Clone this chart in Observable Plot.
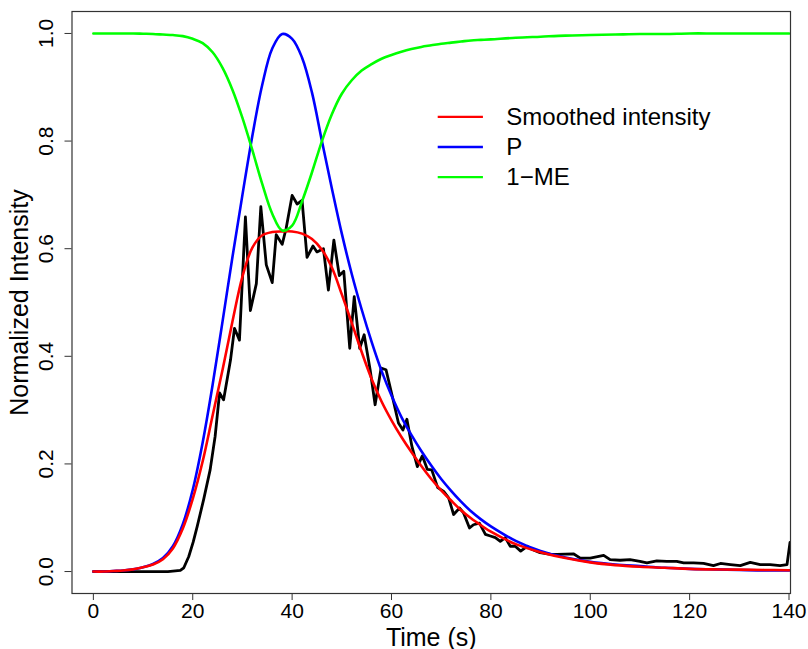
<!DOCTYPE html>
<html>
<head>
<meta charset="utf-8">
<script src="https://cdn.jsdelivr.net/npm/d3@7"></script>
<script src="https://cdn.jsdelivr.net/npm/@observablehq/plot@0.6"></script>
<style>
  html, body { margin: 0; padding: 0; background: #fff; }
  #chart { width: 808px; height: 649px; }
</style>
</head>
<body>
<div id="chart"></div>
<script>
// ---- data ----
const xTicks = [0, 20, 40, 60, 80, 100, 120, 140];
const yTicks = [0, 0.2, 0.4, 0.6, 0.8, 1.0];
const xTitle = "Time (s)";
const yTitle = "Normalized Intensity";
const legendLabels = ["Smoothed intensity", "P", "1\u2212ME"];
const legendColors = ["#FF0000", "#0000FF", "#00FF00"];

// raw (noisy) normalized intensity
const rawTime = [0, 5, 10, 15, 17.5, 18.2, 19.2, 20.1, 20.9, 22.2, 23.5, 24.5, 25.4, 26.2, 27.6, 28.4, 29.4, 30.6, 31.6, 32.8, 33.7, 34.8, 36.0, 36.8, 38.0, 38.8, 40.0, 41.0, 42.0, 43.0, 44.2, 45.0, 46.3, 47.3, 48.4, 49.5, 50.4, 51.6, 52.5, 53.6, 54.5, 55.7, 56.7, 57.9, 58.9, 60.1, 61.4, 62.3, 63.1, 64.1, 65.2, 66.2, 67.2, 68.1, 69.3, 70.5, 71.5, 72.5, 73.7, 74.5, 75.7, 76.5, 77.7, 78.9, 79.9, 80.9, 81.9, 82.9, 83.9, 84.9, 86.0, 87.3, 88.3, 89.9, 92.0, 93.3, 96.6, 98.0, 100, 102.7, 104, 106, 108, 110, 111.4, 113.4, 115.4, 117.4, 118.8, 120.8, 122.8, 124.8, 126.2, 128.2, 130.2, 132.2, 134.2, 136.2, 138.2, 139.6, 140.2];
const rawIntensity = [0, 0, 0, 0, 0.002, 0.007, 0.028, 0.055, 0.084, 0.134, 0.189, 0.251, 0.332, 0.319, 0.393, 0.452, 0.430, 0.659, 0.485, 0.535, 0.678, 0.570, 0.537, 0.626, 0.608, 0.638, 0.699, 0.683, 0.690, 0.584, 0.605, 0.594, 0.600, 0.523, 0.616, 0.550, 0.558, 0.415, 0.511, 0.415, 0.440, 0.375, 0.310, 0.378, 0.375, 0.328, 0.276, 0.263, 0.283, 0.233, 0.195, 0.215, 0.190, 0.189, 0.156, 0.149, 0.137, 0.106, 0.118, 0.109, 0.081, 0.087, 0.090, 0.069, 0.066, 0.063, 0.056, 0.063, 0.047, 0.047, 0.038, 0.047, 0.041, 0.035, 0.032, 0.032, 0.033, 0.025, 0.025, 0.030, 0.022, 0.021, 0.022, 0.019, 0.016, 0.020, 0.019, 0.019, 0.016, 0.016, 0.015, 0.011, 0.015, 0.013, 0.011, 0.017, 0.013, 0.013, 0.011, 0.013, 0.054];

// smooth curves, sampled times
const curveTime = [0, 2, 4, 6, 8, 10, 12, 14, 16, 18, 20, 22, 24, 26, 28, 30, 32, 34, 36, 38, 40, 42, 44, 46, 48, 50, 52, 54, 56, 58, 60, 62, 64, 66, 68, 70, 72, 74, 76, 78, 80, 85, 90, 95, 100, 105, 110, 115, 120, 125, 130, 135, 140];
const smoothedIntensity = [0, 0, 0.001, 0.002, 0.004, 0.008, 0.013, 0.023, 0.043, 0.080, 0.135, 0.205, 0.290, 0.375, 0.465, 0.548, 0.602, 0.625, 0.631, 0.632, 0.632, 0.628, 0.618, 0.598, 0.565, 0.515, 0.462, 0.408, 0.358, 0.316, 0.281, 0.250, 0.222, 0.196, 0.172, 0.151, 0.132, 0.114, 0.099, 0.086, 0.074, 0.051, 0.036, 0.025, 0.017, 0.012, 0.009, 0.007, 0.005, 0.004, 0.0035, 0.003, 0.0025];
const pValues = [0, 0, 0.001, 0.002, 0.004, 0.008, 0.014, 0.025, 0.047, 0.088, 0.152, 0.240, 0.347, 0.465, 0.585, 0.700, 0.810, 0.905, 0.972, 0.999, 0.990, 0.955, 0.890, 0.800, 0.712, 0.628, 0.553, 0.487, 0.427, 0.373, 0.327, 0.287, 0.254, 0.224, 0.197, 0.172, 0.150, 0.130, 0.112, 0.097, 0.084, 0.057, 0.038, 0.026, 0.018, 0.013, 0.010, 0.007, 0.005, 0.004, 0.003, 0.002, 0.002];
const oneMinusME = [1, 1, 1, 1, 1, 0.9995, 0.999, 0.998, 0.997, 0.995, 0.990, 0.982, 0.965, 0.936, 0.895, 0.843, 0.783, 0.720, 0.665, 0.634, 0.643, 0.688, 0.742, 0.800, 0.850, 0.888, 0.913, 0.931, 0.943, 0.953, 0.960, 0.966, 0.971, 0.975, 0.978, 0.981, 0.983, 0.985, 0.987, 0.988, 0.989, 0.992, 0.994, 0.996, 0.997, 0.998, 0.999, 0.999, 1, 1, 1, 1, 1];

// ---- build tables ----
const raw = rawTime.map((t, i) => ({t, v: rawIntensity[i]}));
const curves = [smoothedIntensity, pValues, oneMinusME].map(arr => curveTime.map((t, i) => ({t, v: arr[i]})));

const legendTop = 0.845, legendStep = 0.056;
const legendX1 = 69.4, legendX2 = 78.5, legendTextX = 83.1;
const fontFamily = "'Liberation Sans', Arial, Helvetica, sans-serif";

const lineMarks = [
  Plot.line(raw, {x: "t", y: "v", stroke: "#000", strokeWidth: 2.8, strokeLinejoin: "round", clip: true}),
  Plot.line(curves[1], {x: "t", y: "v", stroke: legendColors[1], strokeWidth: 2.6, curve: "catmull-rom", clip: true}),
  Plot.line(curves[0], {x: "t", y: "v", stroke: legendColors[0], strokeWidth: 2.6, curve: "catmull-rom", clip: true}),
  Plot.line(curves[2], {x: "t", y: "v", stroke: legendColors[2], strokeWidth: 2.6, curve: "catmull-rom", clip: true})
];

const legendMarks = legendLabels.map((lab, i) =>
  Plot.ruleY([legendTop - i * legendStep], {x1: () => legendX1, x2: () => legendX2, y: d => d, stroke: legendColors[i], strokeWidth: 2.4})
).concat([
  Plot.text(legendLabels, {x: () => legendTextX, y: (d, i) => legendTop - i * legendStep, text: d => d,
    textAnchor: "start", lineAnchor: "middle", fontSize: 24, fill: "#000"})
]);

const chart = Plot.plot({
  width: 808,
  height: 649,
  marginLeft: 71.5,
  marginRight: 18,
  marginTop: 11,
  marginBottom: 56,
  x: {domain: [-4.3, 140.3], label: null},
  y: {domain: [-0.0408, 1.0408], label: null},
  style: {fontFamily, fontSize: "21px", background: "#fff", color: "#000", overflow: "visible"},
  marks: [
    ...lineMarks,
    ...legendMarks,
    Plot.frame({stroke: "#333", strokeWidth: 1.2}),
    Plot.axisX({ticks: xTicks, tickSize: 7, tickPadding: 3, stroke: "#333", fill: "#000", fontSize: 21, tickFormat: d => String(d), label: null}),
    Plot.axisY({ticks: yTicks, tickSize: 7, stroke: "#333", tickFormat: () => "", label: null}),
    Plot.text(yTicks, {y: d => d, text: d => d.toFixed(1), frameAnchor: "left", dx: -26, rotate: -90,
      textAnchor: "middle", lineAnchor: "middle", fontSize: 21, fill: "#000"}),
    Plot.text([yTitle], {text: d => d, frameAnchor: "left", dx: -44, rotate: -90,
      textAnchor: "middle", lineAnchor: "bottom", fontSize: 25, fill: "#000"}),
    Plot.text([xTitle], {text: d => d, frameAnchor: "bottom", dy: 52,
      textAnchor: "middle", lineAnchor: "bottom", fontSize: 25, fill: "#000"})
  ]
});

document.getElementById("chart").appendChild(chart);
</script>
</body>
</html>
